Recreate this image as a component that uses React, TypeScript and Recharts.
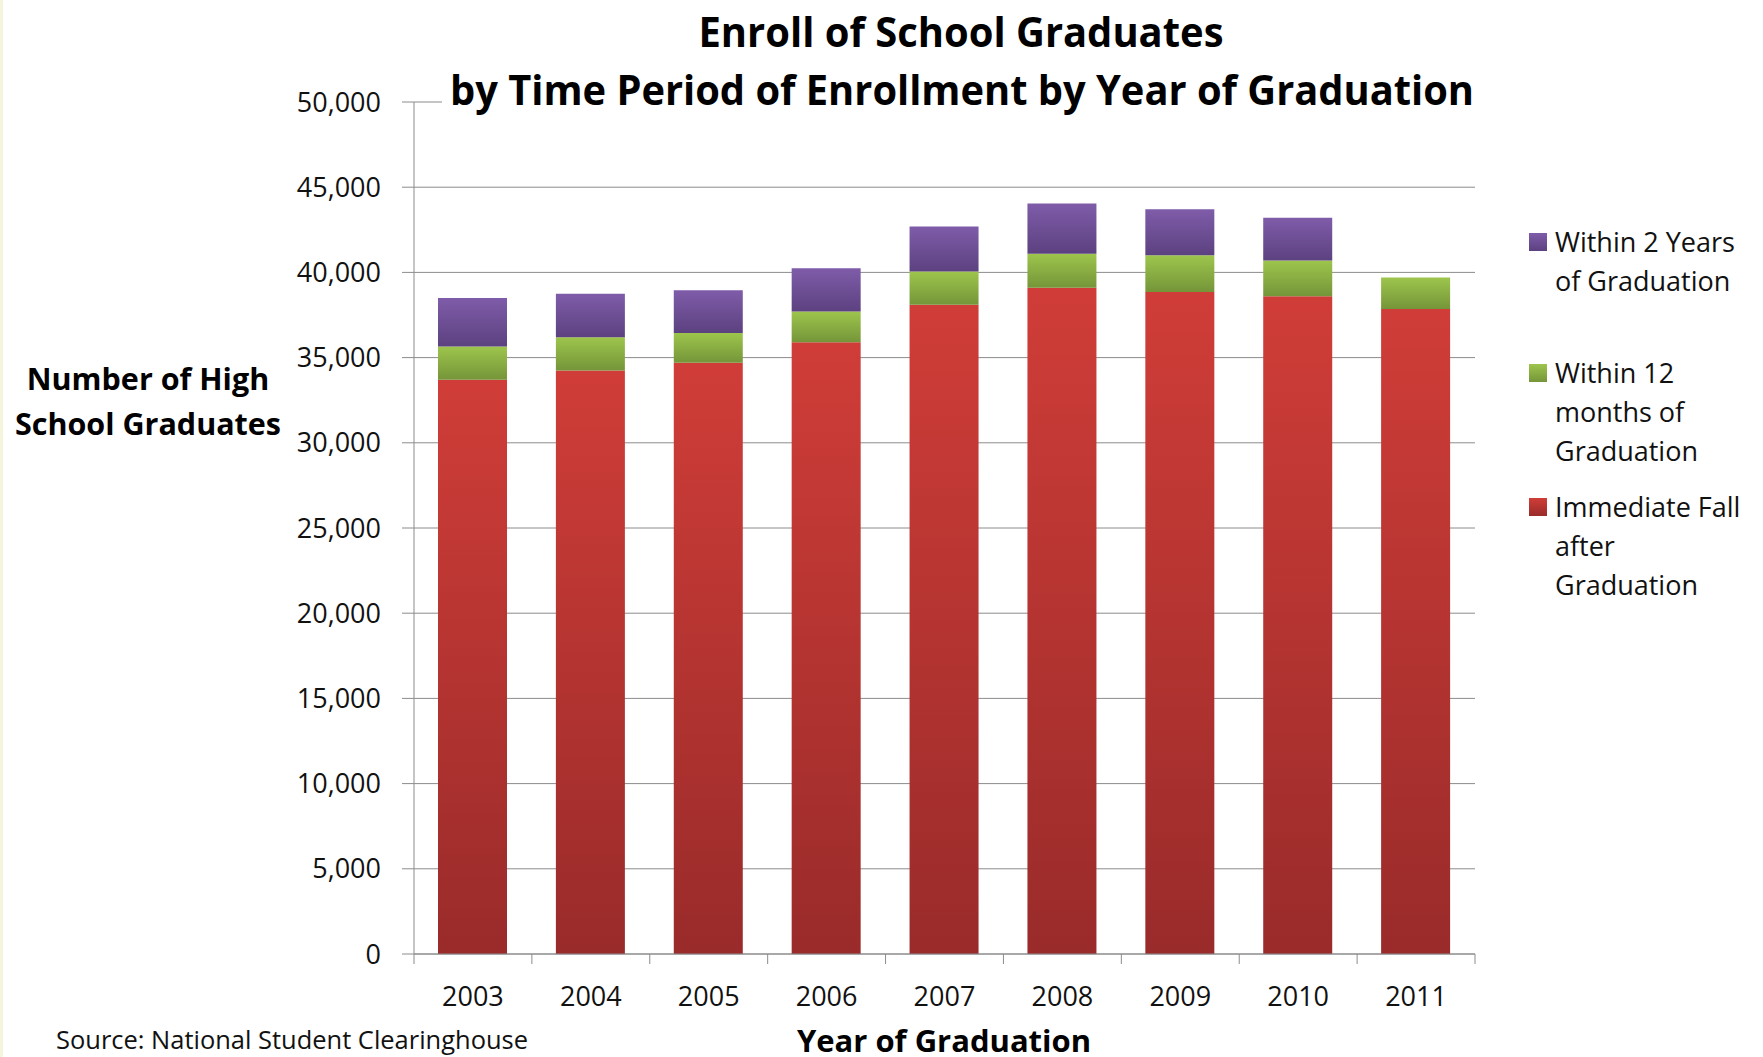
import React from 'react';
import { BarChart, Bar, XAxis, YAxis, CartesianGrid } from 'recharts';

const years = ['2003', '2004', '2005', '2006', '2007', '2008', '2009', '2010', '2011'];
const immediateFall = [33700, 34250, 34700, 35900, 38100, 39100, 38850, 38600, 37850];
const within12Months = [1950, 1950, 1750, 1800, 1950, 2000, 2150, 2100, 1850];
const within2Years = [2850, 2550, 2500, 2550, 2650, 2950, 2700, 2500, 0];
const yTicks = [0, 5000, 10000, 15000, 20000, 25000, 30000, 35000, 40000, 45000, 50000];

const seriesNames = {
  fall: ['Immediate Fall', 'after', 'Graduation'],
  months: ['Within 12', 'months of', 'Graduation'],
  years2: ['Within 2 Years', 'of Graduation'],
};

const data = years.map((year, i) => ({
  year,
  fall: immediateFall[i],
  months: within12Months[i],
  years2: within2Years[i],
}));

const W = 1763;
const H = 1057;
const PLOT_LEFT = 414;
const PLOT_RIGHT = 1475;
const FONT = '"Open Sans", sans-serif';
const AXIS = '#8c8c8c';

const YearTick = (props: any) => {
  const { x, y, payload } = props;
  const band = (PLOT_RIGHT - PLOT_LEFT) / years.length;
  const last = payload.value === years[years.length - 1];
  return (
    <g>
      <line x1={x - band / 2} y1={y} x2={x - band / 2} y2={y + 10} stroke={AXIS} />
      {last && <line x1={x + band / 2} y1={y} x2={x + band / 2} y2={y + 10} stroke={AXIS} />}
      <text x={x} y={y + 52} textAnchor="middle" fontFamily={FONT} fontSize={27} fill="#111">
        {payload.value}
      </text>
    </g>
  );
};

const legendItems = [
  { key: 'years2', fill: 'url(#lPurple)', top: 233, lines: seriesNames.years2, base: 252 },
  { key: 'months', fill: 'url(#lGreen)', top: 364, lines: seriesNames.months, base: 383 },
  { key: 'fall', fill: 'url(#lRed)', top: 498, lines: seriesNames.fall, base: 517 },
];

const Gradients = ({ prefix }: { prefix: string }) => (
  <defs>
    <linearGradient id={prefix + 'Red'} x1="0" y1="0" x2="0" y2="1">
      <stop offset="0%" stopColor="#d03d38" />
      <stop offset="100%" stopColor="#992b2a" />
    </linearGradient>
    <linearGradient id={prefix + 'Green'} x1="0" y1="0" x2="0" y2="1">
      <stop offset="0%" stopColor="#9dc54c" />
      <stop offset="100%" stopColor="#759539" />
    </linearGradient>
    <linearGradient id={prefix + 'Purple'} x1="0" y1="0" x2="0" y2="1">
      <stop offset="0%" stopColor="#7f5ca9" />
      <stop offset="100%" stopColor="#5c4180" />
    </linearGradient>
  </defs>
);

const App = () => {
  return (
    <div style={{ position: 'absolute', left: 0, top: 0, width: W, height: H, background: '#fff' }}>
      <div style={{ position: 'absolute', left: 0, top: 0, width: 3, height: H, background: '#f5f5dc' }} />
      <BarChart
        width={W}
        height={H}
        data={data}
        margin={{ top: 102, right: W - PLOT_RIGHT, bottom: 0, left: 0 }}
        barSize={69}
      >
        <Gradients prefix="g" />
        <CartesianGrid vertical={false} stroke={AXIS} />
        <XAxis
          dataKey="year"
          height={H - 954}
          tickLine={false}
          tickSize={0}
          tickMargin={0}
          axisLine={{ stroke: AXIS }}
          tick={<YearTick />}
          interval={0}
        />
        <YAxis
          width={PLOT_LEFT}
          domain={[0, 50000]}
          ticks={yTicks}
          interval={0}
          tickSize={12}
          tickMargin={21}
          axisLine={{ stroke: AXIS }}
          tickLine={{ stroke: AXIS }}
          tickFormatter={(v: number) => v.toLocaleString('en-US')}
          tick={{ fontFamily: FONT, fontSize: 27, fill: '#111' }}
        />
        <Bar dataKey="fall" stackId="a" fill="url(#gRed)" isAnimationActive={false} />
        <Bar dataKey="months" stackId="a" fill="url(#gGreen)" isAnimationActive={false} />
        <Bar dataKey="years2" stackId="a" fill="url(#gPurple)" isAnimationActive={false} />
      </BarChart>
      <svg
        width={W}
        height={H}
        style={{ position: 'absolute', left: 0, top: 0, pointerEvents: 'none' }}
      >
        <Gradients prefix="l" />
        <rect x={442} y={68} width={1040} height={48} fill="#fff" />
        <text x={961} y={47} textAnchor="middle" fontFamily={FONT} fontWeight="bold" fontSize={41}
          textLength={525} lengthAdjust="spacingAndGlyphs" fill="#000">
          Enroll of School Graduates
        </text>
        <text x={962} y={105} textAnchor="middle" fontFamily={FONT} fontWeight="bold" fontSize={41}
          textLength={1024} lengthAdjust="spacingAndGlyphs" fill="#000">
          by Time Period of Enrollment by Year of Graduation
        </text>
        <text x={148} y={390} textAnchor="middle" fontFamily={FONT} fontWeight="bold" fontSize={30.5} fill="#000">
          Number of High
        </text>
        <text x={148} y={435} textAnchor="middle" fontFamily={FONT} fontWeight="bold" fontSize={30.5} fill="#000">
          School Graduates
        </text>
        {legendItems.map((item) => (
          <g key={item.key}>
            <rect x={1529} y={item.top} width={18} height={18} fill={item.fill} />
            {item.lines.map((line, j) => (
              <text key={j} x={1555} y={item.base + j * 39} fontFamily={FONT} fontSize={27} fill="#111">
                {line}
              </text>
            ))}
          </g>
        ))}
        <text x={56} y={1049} fontFamily={FONT} fontSize={25} textLength={472}
          lengthAdjust="spacingAndGlyphs" fill="#111">
          Source: National Student Clearinghouse
        </text>
        <text x={944} y={1052} textAnchor="middle" fontFamily={FONT} fontWeight="bold" fontSize={31} fill="#000">
          Year of Graduation
        </text>
      </svg>
    </div>
  );
};

export default App;
